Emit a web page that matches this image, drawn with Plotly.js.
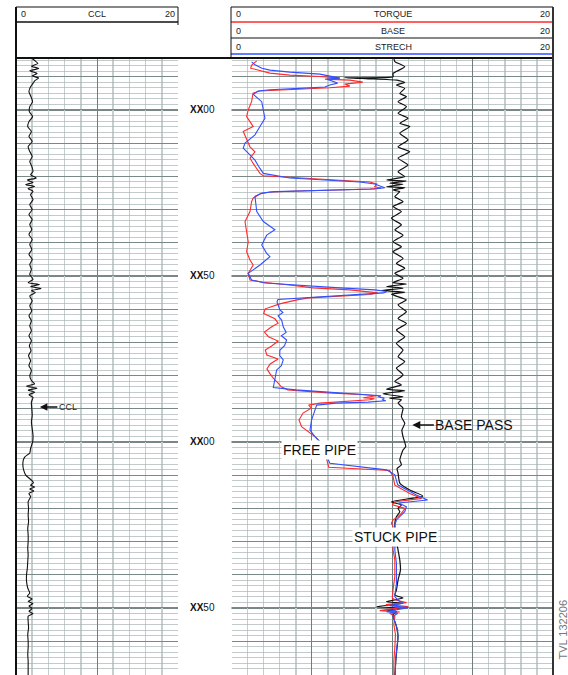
<!DOCTYPE html>
<html><head><meta charset="utf-8">
<script src="https://cdn.plot.ly/plotly-3.0.1.min.js"></script>
<style>html,body{margin:0;padding:0;background:#fff}#chart{width:568px;height:675px}</style>
</head><body><div id="chart"></div>
<script>
// ---- data (depth in ft, values in track units 0-20) ----
const depthTicks = [100, 150, 200, 250];
const depthLabels = ['XX00', 'XX50', 'XX00', 'XX50'];

const cclDepth = [84.5,85.3,86.0,86.8,87.5,88.2,89.0,89.7,90.4,91.2,92.0,93.0,94.5,96.0,97.5,99.0,100.5,102.0,103.5,105.0,106.5,108.0,109.5,111.0,112.5,114.0,115.5,117.0,118.5,119.5,120.5,121.1,121.8,122.5,123.0,123.7,124.5,125.5,127.0,128.5,130.0,131.5,133.0,134.5,136.0,137.5,139.0,140.5,142.0,143.5,145.0,146.5,148.0,149.5,151.0,152.0,152.6,153.2,153.8,154.4,155.0,156.0,157.5,159.0,160.5,162.0,163.5,165.0,166.5,168.0,169.5,171.0,172.5,174.0,175.5,177.0,178.5,180.0,181.5,182.5,183.2,183.8,184.4,185.0,185.8,186.6,188.0,190.0,192.0,194.0,196.0,198.0,200.0,202.0,203.3,204.5,205.5,207.0,208.5,210.0,211.5,212.3,213.0,213.6,214.2,214.8,215.5,216.5,218.0,220.0,222.0,224.0,226.0,228.0,230.0,232.0,234.0,236.0,238.0,240.0,242.0,244.0,245.5,246.5,247.3,248.0,248.7,249.4,250.2,251.0,251.7,252.5,254.0,256.0,258.0,260.0,262.0,264.0,266.0,268.0,270.2];
const cclValue = [2.0,2.4,2.7,1.9,2.8,1.7,2.6,2.0,2.8,2.3,2.1,1.8,1.6,1.85,2.05,1.7,1.65,2.05,1.6,1.45,1.9,1.6,2.0,1.5,1.7,2.0,1.7,1.95,2.1,1.8,2.5,1.4,2.1,1.2,2.3,1.5,2.1,1.8,2.1,1.7,2.0,1.6,2.0,1.7,1.95,1.6,2.0,1.7,1.95,1.6,2.0,1.7,1.9,1.7,2.1,1.5,2.9,1.8,3.1,1.9,2.4,1.7,2.0,1.7,1.95,1.6,1.9,1.7,1.9,1.6,1.9,1.65,1.85,1.55,1.8,1.6,1.9,1.7,1.9,2.3,1.3,2.6,1.5,2.3,1.6,2.1,1.9,1.95,2.0,1.9,2.0,2.1,2.05,1.8,1.7,1.1,0.9,0.85,0.95,1.2,1.9,2.15,1.8,2.3,1.7,2.2,1.6,1.8,1.5,1.55,1.5,1.55,1.45,1.5,1.5,1.45,1.5,1.45,1.4,1.3,1.3,1.45,1.7,1.4,2.0,1.5,2.1,1.6,2.0,1.6,2.1,1.5,1.5,1.55,1.45,1.5,1.5,1.45,1.5,1.5,1.5];

const torqueDepth = [85.2,86.4,87.4,88.0,88.9,89.5,89.9,90.4,90.7,91.0,91.6,92.2,92.8,93.3,93.7,94.0,94.3,94.9,97.5,100.0,102.0,103.5,105.0,106.5,109.0,111.1,112.6,114.5,116.1,117.6,119.1,119.8,120.5,121.1,121.7,122.3,123.1,123.5,123.8,124.4,124.7,125.3,126.5,127.6,130.6,133.6,136.6,139.7,142.7,145.2,146.7,149.2,151.2,151.9,152.7,153.6,154.2,154.8,155.1,155.6,156.2,156.6,157.2,158.4,159.9,161.3,162.9,164.2,165.3,166.9,168.3,169.6,171.1,172.3,173.8,175.0,176.5,178.0,179.5,180.8,182.3,183.4,184.3,185.2,185.8,186.1,186.7,187.0,187.3,187.9,188.3,188.9,189.8,191.3,193.4,195.4,196.9,198.4,199.9,203.4,205.4,207.6,208.6,210.4,213.0,215.5,217.0,218.0,218.9,220.0,221.5,222.5,223.5,224.5,225.5,228.0,230.0,232.5,235.5,240.5,244.6,247.0,247.6,248.4,249.0,249.6,250.8,251.2,251.6,252.6,255.0,258.0,262.0,266.0,270.2];
const torqueValue = [1.57,1.27,1.19,1.65,2.39,3.63,5.5,6.74,5.81,7.36,8.17,7.05,7.36,6.12,4.25,2.7,1.77,1.34,1.25,1.04,0.94,1.15,1.35,0.73,0.94,1.15,1.46,1.15,1.35,1.57,1.77,1.98,4.25,6.74,8.6,9.04,8.91,9.3,8.6,4.25,2.39,1.77,1.35,1.25,1.15,0.84,0.94,1.04,0.94,1.15,1.35,1.04,1.15,1.96,3.63,5.06,7.36,8.79,9.1,8.6,6.12,4.8,4.07,3.0,2.1,2.0,2.7,2.9,2.5,2.05,2.3,2.9,2.5,2.1,2.2,2.9,2.4,2.2,2.4,2.6,2.9,3.1,3.5,6.0,8.3,9.0,8.2,8.9,8.6,7.0,5.5,4.8,4.96,4.45,4.2,4.36,4.76,5.19,5.5,5.81,5.93,6.05,9.84,10.05,10.16,11.09,11.83,10.2,10.0,10.8,10.57,10.36,10.05,9.95,10.05,10.0,10.05,10.05,10.16,10.16,10.05,10.0,10.2,10.88,9.6,11.0,9.22,10.47,9.84,10.16,10.1,10.2,10.16,10.1,10.1];

const baseDepth = [84.4,85.4,87.0,89.0,90.0,90.3,90.6,91.0,91.7,92.5,93.5,95.0,96.0,97.5,99.0,101.0,102.5,104.0,105.0,107.0,109.0,111.1,112.6,114.5,116.6,118.6,120.1,121.1,121.4,122.1,122.4,123.1,123.4,124.1,124.6,126.1,127.6,129.1,130.6,132.6,134.6,136.1,137.7,139.7,141.2,142.7,144.7,146.2,147.7,149.2,150.7,152.0,152.4,153.2,153.7,154.4,154.9,155.5,157.2,158.7,160.8,162.8,164.3,166.3,168.3,170.3,172.3,174.3,175.8,177.8,179.8,181.8,182.8,184.1,184.6,185.5,186.4,186.8,187.3,188.3,189.8,192.4,194.4,196.4,198.4,201.4,202.4,205.4,206.9,208.0,209.4,212.4,214.5,216.3,218.0,219.0,220.0,221.0,222.5,224.5,228.0,232.5,235.6,238.6,241.6,244.6,246.1,247.0,248.1,248.6,249.6,250.1,250.6,251.1,252.1,255.6,258.6,263.6,270.2];
const baseValue = [10.1,10.16,10.78,10.05,10.05,7.05,8.5,10.3,10.78,10.26,10.78,10.47,10.88,10.36,10.88,10.36,10.98,10.47,11.09,10.47,10.98,10.36,11.09,10.36,10.98,10.36,10.78,9.64,10.88,9.84,10.67,9.64,10.78,10.05,10.47,10.16,10.67,10.05,10.57,9.95,10.57,10.16,10.67,10.05,10.57,10.05,10.67,10.26,10.78,10.16,10.67,10.05,10.88,9.64,10.67,9.33,10.78,9.95,10.88,10.36,10.88,10.36,10.88,10.26,10.78,10.26,10.67,10.36,10.78,10.26,10.67,10.16,10.57,9.64,10.78,9.43,10.67,9.84,10.57,10.36,10.67,10.57,10.78,10.6,10.67,10.84,10.67,10.47,10.57,10.3,10.36,10.47,11.09,11.9,9.95,10.57,10.36,10.47,10.26,10.16,10.2,10.36,10.47,10.51,10.36,10.26,10.16,10.67,9.64,10.67,9.04,10.47,9.64,10.26,10.05,10.26,10.36,10.26,10.16];

const strechDepth = [85.5,86.4,87.4,88.0,88.6,89.2,89.8,90.4,90.7,91.3,91.9,92.5,93.1,93.5,93.9,94.3,95.3,97.5,100.0,102.5,105.0,107.5,110.0,111.5,113.0,115.1,117.6,119.1,120.5,121.1,121.7,122.3,122.9,123.4,123.8,124.2,124.6,125.0,126.0,130.6,133.6,136.1,137.7,140.7,143.2,144.2,146.7,149.2,151.2,152.1,152.9,153.6,154.2,154.7,155.1,155.7,156.5,157.1,157.8,160.2,161.0,162.0,163.3,165.3,167.0,168.0,169.3,171.0,172.3,174.0,175.3,177.0,178.3,180.8,182.8,183.6,184.3,185.2,185.8,186.1,186.4,186.8,187.3,187.6,188.0,188.3,188.9,190.4,193.4,196.4,198.4,199.9,203.4,204.4,206.4,208.4,209.9,212.9,216.0,217.5,218.4,219.5,221.0,222.5,223.5,225.0,228.0,232.5,236.6,242.6,246.6,247.6,248.6,249.3,249.9,251.1,251.6,252.6,256.6,259.6,262.7,266.0,270.2];
const strechValue = [1.25,1.46,1.89,2.39,3.63,5.5,6.12,6.74,5.93,6.3,6.6,6.12,5.81,4.25,2.39,1.65,1.36,1.88,1.98,2.08,1.77,1.46,0.84,0.73,1.04,1.46,1.77,1.98,3.63,6.12,7.98,8.91,9.22,9.53,8.91,5.5,2.7,1.89,1.46,1.57,1.98,2.7,2.19,1.88,2.19,2.39,1.77,1.04,1.25,2.08,4.25,6.74,8.91,9.66,9.47,7.36,4.25,2.89,2.83,3.01,3.2,2.9,3.12,3.22,3.4,3.1,3.43,3.3,3.01,3.0,3.22,3.1,2.81,2.7,2.6,2.6,4.0,6.5,8.5,9.3,9.1,9.5,9.4,9.6,8.5,6.5,5.3,5.19,4.98,4.88,5.19,5.5,5.81,5.91,6.12,9.64,10.16,10.34,11.5,12.2,10.4,10.88,10.78,10.47,10.26,10.16,10.2,10.16,10.26,10.26,10.16,10.34,10.67,9.84,10.98,9.64,10.34,10.05,10.34,10.34,10.26,10.2,10.2];

// ---- layout helpers (pixel -> paper) ----
const W = 568, H = 675;
const PX = p => p / W, PY = p => 1 - p / H;
const FONT = 'Liberation Sans, Arial, Helvetica, sans-serif';

const traces = [
  {x: cclValue, y: cclDepth, xaxis: 'x', yaxis: 'y', mode: 'lines',
   line: {color: '#111', width: 1.1, shape: 'spline', smoothing: 0.6}, hoverinfo: 'skip'},
  {x: baseValue, y: baseDepth, xaxis: 'x2', yaxis: 'y', mode: 'lines',
   line: {color: '#111', width: 1.2, shape: 'spline', smoothing: 0.5}, hoverinfo: 'skip'},
  {x: torqueValue, y: torqueDepth, xaxis: 'x2', yaxis: 'y', mode: 'lines',
   line: {color: '#ff2a2a', width: 1.1}, hoverinfo: 'skip'},
  {x: strechValue, y: strechDepth, xaxis: 'x2', yaxis: 'y', mode: 'lines',
   line: {color: '#3050ff', width: 1.1}, hoverinfo: 'skip'}
];

const majorGrid = '#6f7d7d', minorGrid = '#c6cece';
const axisCommon = {range: [0, 20], showticklabels: false, ticks: '', zeroline: false,
  showline: false, showgrid: true, gridcolor: majorGrid, gridwidth: 1, fixedrange: true, anchor: 'y'};

const shapes = [];
function line(x0, y0, x1, y1, color, width) {
  shapes.push({type: 'line', xref: 'paper', yref: 'paper', x0: PX(x0), y0: PY(y0), x1: PX(x1), y1: PY(y1),
    line: {color: color, width: width}});
}
// heavy depth lines every 50 ft, spanning each track
depthTicks.forEach(d => {
  shapes.push({type: 'line', xref: 'paper', yref: 'y', x0: PX(16), x1: PX(178), y0: d, y1: d,
    layer: 'below', line: {color: '#4e5c5c', width: 1.6}});
  shapes.push({type: 'line', xref: 'paper', yref: 'y', x0: PX(231.5), x1: PX(553), y0: d, y1: d,
    layer: 'below', line: {color: '#4e5c5c', width: 1.6}});
});
// header frame
line(16, 7, 178, 7, '#111', 1.2);
line(16, 22, 178, 22, '#111', 1.5);
line(178, 7, 178, 25, '#111', 1);
line(231, 7, 553, 7, '#111', 1.2);
line(231, 22, 553, 22, '#ff2a2a', 1.3);
line(231, 38, 553, 38, '#111', 1.2);
line(231, 54, 553, 54, '#3050ff', 1.3);
line(231, 7, 231, 58, '#111', 1);
line(16, 58, 553, 58, '#111', 2);
line(16, 7, 16, 675, '#111', 2);
line(553, 7, 553, 675, '#333', 2);

const annotations = [];
function txt(x, y, s, anchor, size, extra) {
  annotations.push(Object.assign({xref: 'paper', yref: 'paper', x: PX(x), y: PY(y), text: s, showarrow: false,
    xanchor: anchor, yanchor: 'middle', font: {family: FONT, size: size, color: '#222'}}, extra || {}));
}
txt(19, 14.5, '0', 'left', 9); txt(97, 14.5, 'CCL', 'center', 9); txt(177, 14.5, '20', 'right', 9);
txt(233.5, 14.5, '0', 'left', 9); txt(393, 14.5, 'TORQUE', 'center', 9); txt(552, 14.5, '20', 'right', 9);
txt(233.5, 30.5, '0', 'left', 9); txt(393, 30.5, 'BASE', 'center', 9); txt(552, 30.5, '20', 'right', 9);
txt(233.5, 46.5, '0', 'left', 9); txt(393, 46.5, 'STRECH', 'center', 9); txt(552, 46.5, '20', 'right', 9);

depthTicks.forEach((d, i) => annotations.push({xref: 'paper', yref: 'y', x: PX(202.5), y: d, showarrow: false,
  text: '<b>' + depthLabels[i].slice(0, 2) + '</b>' + depthLabels[i].slice(2), xanchor: 'center', yanchor: 'middle',
  font: {family: FONT, size: 10, color: '#111'}}));

annotations.push({xref: 'x', yref: 'y', x: 2.95, y: 189.5, text: 'CCL', showarrow: true, ax: 28, ay: 0,
  arrowhead: 2, arrowsize: 1, arrowwidth: 1.5, arrowcolor: '#111', font: {family: FONT, size: 9, color: '#222'}});
annotations.push({xref: 'x2', yref: 'y', x: 11.25, y: 194.9, text: 'BASE PASS', showarrow: true, ax: 62, ay: 0,
  arrowhead: 2, arrowsize: 1, arrowwidth: 1.6, arrowcolor: '#111', font: {family: FONT, size: 14, color: '#111'}});
annotations.push({xref: 'x2', yref: 'y', x: 5.5, y: 202.4, text: 'FREE PIPE', showarrow: false, bgcolor: '#fff',
  borderpad: 1, font: {family: FONT, size: 14, color: '#111'}});
annotations.push({xref: 'x2', yref: 'y', x: 10.22, y: 228.6, text: 'STUCK PIPE', showarrow: false, bgcolor: '#fff',
  borderpad: 1, font: {family: FONT, size: 14, color: '#111'}});
annotations.push({xref: 'paper', yref: 'paper', x: PX(562.5), y: PY(598), xanchor: 'center', yanchor: 'top',
  text: 'TVL 132206', showarrow: false, textangle: -90, font: {family: FONT, size: 11, color: '#777'}});

const layout = {
  width: W, height: H, margin: {l: 0, r: 0, t: 0, b: 0}, showlegend: false,
  paper_bgcolor: '#fff', plot_bgcolor: '#fff',
  xaxis: Object.assign({}, axisCommon, {domain: [PX(16), PX(178)], dtick: 10,
    minor: {dtick: 2, showgrid: true, gridcolor: minorGrid, gridwidth: 1.5}}),
  xaxis2: Object.assign({}, axisCommon, {domain: [PX(231.5), PX(553)], dtick: 5,
    minor: {dtick: 1, showgrid: true, gridcolor: minorGrid, gridwidth: 1.5}}),
  yaxis: {domain: [0, PY(58)], range: [270.2, 84.34], showticklabels: false, ticks: '', zeroline: false,
    showgrid: true, tick0: 0, dtick: 10, gridcolor: '#7b8888', gridwidth: 1, fixedrange: true, anchor: 'x',
    minor: {dtick: 10 / 6, tick0: 0, showgrid: true, gridcolor: '#a9b3b3', gridwidth: 0.7}},
  shapes: shapes, annotations: annotations
};
Plotly.newPlot('chart', traces, layout, {staticPlot: true, displayModeBar: false});
</script></body></html>
